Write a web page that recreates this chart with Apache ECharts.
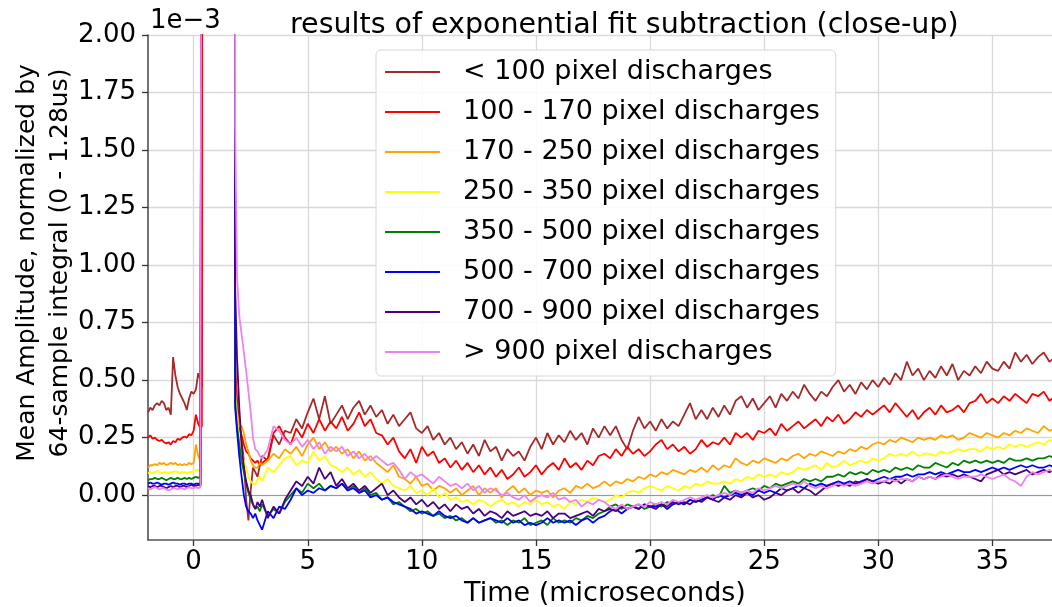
<!DOCTYPE html>
<html>
<head>
<meta charset="utf-8">
<script src="https://cdn.jsdelivr.net/npm/echarts@6/dist/echarts.min.js"></script>
<style>
html,body{margin:0;padding:0;background:#fff;}
#chart{width:1052px;height:607px;}
</style>
</head>
<body>
<div id="chart"></div>
<script>
// time axis (microseconds)
const time = [-2.0,-1.9,-1.8,-1.7,-1.6,-1.5,-1.4,-1.3,-1.2,-1.1,-1.0,-0.9,-0.8,-0.7,-0.6,-0.5,-0.4,-0.3,-0.2,-0.1,0.0,0.1,0.2,0.3,0.36,
0.4,1.78,
1.82,1.9,2.0,2.1,2.2,2.3,2.4,2.5,2.6,2.7,2.8,2.9,3.0,
3.25,3.5,3.75,4,4.25,4.5,4.75,5,5.25,5.5,5.75,6,6.25,6.5,6.75,7,7.25,7.5,7.75,8,8.25,8.5,8.75,9,9.25,9.5,9.75,10,
10.25,10.5,10.75,11,11.25,11.5,11.75,12,12.25,12.5,12.75,13,13.25,13.5,13.75,14,14.25,14.5,14.75,15,15.25,15.5,15.75,16,
16.25,16.5,16.75,17,17.25,17.5,17.75,18,18.25,18.5,18.75,19,19.25,19.5,19.75,20,20.25,20.5,20.75,21,21.25,21.5,21.75,22,
22.25,22.5,22.75,23,23.25,23.5,23.75,24,24.25,24.5,24.75,25,25.25,25.5,25.75,26,26.25,26.5,26.75,27,27.25,27.5,27.75,28,
28.25,28.5,28.75,29,29.25,29.5,29.75,30,30.25,30.5,30.75,31,31.25,31.5,31.75,32,32.25,32.5,32.75,33,33.25,33.5,33.75,34,
34.25,34.5,34.75,35,35.25,35.5,35.75,36,36.25,36.5,36.75,37,37.25,37.5,37.75,38];

// values in units of 1e-3
const lt100 = [0.36,0.38,0.37,0.39,0.40,0.39,0.41,0.40,0.37,0.38,0.35,0.60,0.52,0.47,0.44,0.42,0.40,0.37,0.42,0.45,0.44,0.46,0.53,0.50,0.47,
8,8,
0.60,0.35,0.30,0.24,0.15,-0.02,-0.11,0.02,0.12,0.10,0.08,0.13,0.17,
0.15,0.26,0.22,0.28,0.27,0.33,0.29,0.36,0.42,0.33,0.43,0.31,0.35,0.39,0.33,0.38,0.41,0.35,0.39,0.34,0.37,0.31,0.35,0.30,0.33,0.36,0.29,0.27,
0.30,0.24,0.27,0.22,0.25,0.20,0.23,0.18,0.22,0.17,0.24,0.19,0.21,0.15,0.20,0.17,0.19,0.15,0.21,0.25,0.20,0.27,0.22,0.26,
0.23,0.28,0.24,0.27,0.22,0.29,0.25,0.30,0.26,0.30,0.24,0.20,0.28,0.34,0.29,0.32,0.28,0.33,0.29,0.32,0.30,0.35,0.40,0.33,
0.37,0.33,0.38,0.34,0.39,0.35,0.41,0.43,0.38,0.42,0.37,0.40,0.43,0.38,0.44,0.41,0.45,0.42,0.48,0.44,0.41,0.45,0.43,0.47,
0.50,0.45,0.48,0.44,0.49,0.46,0.50,0.47,0.51,0.48,0.53,0.50,0.58,0.52,0.55,0.50,0.54,0.51,0.56,0.52,0.57,0.50,0.54,0.52,
0.56,0.53,0.58,0.55,0.54,0.58,0.55,0.62,0.58,0.61,0.57,0.60,0.62,0.58,0.60,0.59];

const r100_170 = [0.25,0.26,0.245,0.25,0.24,0.235,0.24,0.23,0.225,0.23,0.22,0.235,0.23,0.245,0.24,0.25,0.255,0.25,0.265,0.26,0.28,0.35,0.31,0.29,0.30,
8,8,
0.52,0.42,0.30,0.26,0.22,0.19,0.18,0.16,0.15,0.14,0.15,0.13,0.14,
0.16,0.27,0.30,0.25,0.22,0.29,0.25,0.31,0.27,0.33,0.28,0.32,0.29,0.34,0.28,0.31,0.36,0.30,0.33,0.27,0.26,0.22,0.25,0.19,0.16,0.20,0.14,0.21,
0.17,0.19,0.14,0.16,0.12,0.15,0.11,0.14,0.10,0.13,0.09,0.12,0.08,0.11,0.07,0.09,0.12,0.08,0.10,0.13,0.09,0.12,0.14,0.11,
0.16,0.12,0.14,0.11,0.15,0.13,0.17,0.18,0.16,0.20,0.17,0.21,0.18,0.20,0.17,0.19,0.22,0.24,0.20,0.22,0.19,0.21,0.18,0.20,
0.24,0.21,0.23,0.22,0.25,0.22,0.27,0.25,0.27,0.24,0.28,0.27,0.29,0.26,0.31,0.28,0.30,0.32,0.29,0.31,0.33,0.30,0.34,0.32,
0.35,0.31,0.33,0.36,0.34,0.37,0.35,0.37,0.39,0.36,0.40,0.37,0.34,0.37,0.33,0.36,0.38,0.35,0.39,0.36,0.37,0.39,0.36,0.40,
0.41,0.44,0.40,0.42,0.40,0.43,0.41,0.44,0.42,0.40,0.44,0.43,0.45,0.41,0.43,0.42];

const r170_250 = [0.12,0.13,0.13,0.135,0.13,0.14,0.135,0.14,0.13,0.135,0.14,0.135,0.14,0.13,0.135,0.13,0.135,0.13,0.14,0.135,0.14,0.22,0.17,0.145,0.15,
8,8,
0.45,0.36,0.30,0.30,0.27,0.22,0.19,0.15,0.13,0.12,0.12,0.14,0.13,
0.15,0.18,0.16,0.20,0.18,0.21,0.17,0.22,0.25,0.20,0.23,0.19,0.21,0.18,0.20,0.16,0.19,0.15,0.17,0.14,0.12,0.10,0.13,0.08,0.07,0.05,0.08,0.04,
0.05,0.02,0.04,0.03,0.01,0.03,0.0,0.02,0.04,0.0,0.03,0.01,0.03,-0.01,0.02,0.04,0.01,0.03,0.0,0.02,0.01,0.02,-0.01,0.02,
0.03,0.01,0.04,0.03,0.05,0.03,0.04,0.06,0.04,0.06,0.05,0.07,0.06,0.08,0.07,0.09,0.08,0.10,0.09,0.11,0.10,0.09,0.11,0.10,
0.12,0.10,0.13,0.11,0.13,0.12,0.16,0.14,0.13,0.15,0.14,0.16,0.15,0.14,0.16,0.15,0.17,0.18,0.16,0.18,0.17,0.19,0.18,0.17,
0.19,0.18,0.20,0.19,0.21,0.20,0.22,0.23,0.22,0.24,0.23,0.25,0.24,0.23,0.25,0.24,0.25,0.24,0.26,0.25,0.26,0.24,0.25,0.27,
0.26,0.25,0.27,0.26,0.25,0.27,0.26,0.28,0.27,0.29,0.28,0.27,0.30,0.28,0.29,0.28];

const r250_350 = [0.095,0.1,0.095,0.1,0.105,0.1,0.095,0.1,0.1,0.095,0.1,0.1,0.105,0.1,0.095,0.1,0.1,0.095,0.1,0.1,0.105,0.11,0.11,0.105,0.11,
8,8,
0.42,0.33,0.25,0.19,0.15,0.12,0.08,0.06,0.05,0.045,0.07,0.08,0.06,
0.12,0.10,0.13,0.16,0.17,0.13,0.15,0.14,0.19,0.15,0.17,0.13,0.12,0.10,0.12,0.09,0.11,0.08,0.10,0.07,0.05,0.07,0.04,0.03,0.02,0.04,0.01,0.02,
0.0,0.03,-0.01,0.01,-0.02,-0.01,-0.03,-0.02,-0.04,-0.02,-0.03,-0.05,-0.03,-0.02,-0.04,-0.03,-0.05,-0.03,-0.04,-0.02,-0.04,-0.03,-0.05,-0.04,
-0.06,-0.03,-0.04,-0.02,-0.03,-0.01,-0.02,-0.03,-0.02,0.0,-0.01,0.01,0.02,0.01,0.03,0.04,0.03,0.02,0.04,0.03,0.02,0.04,0.03,0.05,
0.04,0.06,0.05,0.05,0.06,0.05,0.07,0.06,0.08,0.07,0.09,0.08,0.09,0.08,0.10,0.09,0.10,0.12,0.11,0.12,0.13,0.11,0.14,0.12,
0.13,0.15,0.13,0.14,0.15,0.14,0.16,0.15,0.16,0.18,0.17,0.18,0.17,0.19,0.17,0.18,0.18,0.17,0.19,0.18,0.19,0.20,0.19,0.20,
0.20,0.19,0.21,0.20,0.21,0.20,0.22,0.21,0.22,0.21,0.22,0.23,0.22,0.24,0.23,0.23];

const r350_500 = [0.065,0.07,0.07,0.075,0.07,0.07,0.075,0.07,0.065,0.07,0.075,0.07,0.07,0.075,0.07,0.07,0.075,0.07,0.075,0.07,0.075,0.08,0.075,0.08,0.08,
8,8,
0.40,0.30,0.22,0.15,0.10,0.05,0.01,-0.02,-0.04,-0.06,-0.05,-0.07,-0.04,
-0.09,-0.06,-0.08,-0.03,0.0,0.03,0.01,0.05,0.03,0.05,0.02,0.04,0.03,0.05,0.02,0.04,0.01,0.03,0.0,0.01,-0.02,-0.01,-0.04,-0.03,-0.05,-0.07,-0.06,-0.08,
-0.07,-0.09,-0.08,-0.10,-0.09,-0.11,-0.10,-0.12,-0.10,-0.12,-0.11,-0.10,-0.12,-0.11,-0.13,-0.11,-0.12,-0.10,-0.13,-0.12,-0.11,-0.13,-0.10,-0.12,
-0.11,-0.12,-0.10,-0.11,-0.09,-0.10,-0.08,-0.07,-0.05,-0.04,-0.06,-0.04,-0.05,-0.04,-0.06,-0.05,-0.04,-0.05,-0.03,-0.04,-0.03,-0.04,-0.02,-0.03,
-0.02,-0.01,0.0,-0.01,0.04,0.01,0.02,0.01,0.02,0.03,0.02,0.04,0.03,0.05,0.04,0.05,0.06,0.05,0.07,0.06,0.07,0.06,0.08,0.08,
0.09,0.08,0.10,0.09,0.10,0.09,0.11,0.10,0.11,0.10,0.12,0.11,0.12,0.11,0.13,0.12,0.12,0.14,0.13,0.12,0.14,0.13,0.15,0.14,
0.15,0.14,0.15,0.14,0.15,0.14,0.16,0.15,0.15,0.16,0.15,0.16,0.16,0.17,0.16,0.17];

const r500_700 = [0.05,0.055,0.05,0.05,0.055,0.05,0.045,0.05,0.05,0.045,0.05,0.055,0.05,0.05,0.045,0.05,0.05,0.045,0.05,0.05,0.045,0.05,0.05,0.045,0.05,
8,8,
0.38,0.28,0.17,0.08,0.0,-0.05,-0.07,-0.08,-0.10,-0.08,-0.11,-0.13,-0.15,
-0.07,-0.10,-0.05,-0.06,-0.02,0.03,0.0,0.02,0.01,0.03,0.02,0.04,0.03,0.05,0.02,0.03,0.01,0.02,-0.01,0.0,-0.02,-0.01,-0.03,-0.04,-0.05,-0.06,-0.08,-0.07,
-0.08,-0.09,-0.07,-0.09,-0.10,-0.09,-0.11,-0.12,-0.10,-0.12,-0.11,-0.10,-0.11,-0.12,-0.10,-0.12,-0.11,-0.13,-0.12,-0.13,-0.12,-0.10,-0.12,-0.11,
-0.12,-0.11,-0.13,-0.11,-0.10,-0.12,-0.10,-0.09,-0.07,-0.06,-0.08,-0.06,-0.05,-0.06,-0.04,-0.05,-0.05,-0.04,-0.06,-0.04,-0.03,-0.04,-0.02,-0.03,
-0.02,-0.01,-0.02,0.0,-0.01,0.0,0.01,0.0,0.01,0.0,0.02,0.01,0.02,0.01,0.03,0.02,0.03,0.04,0.03,0.05,0.04,0.05,0.04,0.05,
0.06,0.05,0.06,0.05,0.06,0.07,0.06,0.07,0.08,0.07,0.08,0.08,0.09,0.08,0.09,0.09,0.10,0.09,0.10,0.09,0.10,0.11,0.10,0.10,
0.11,0.10,0.11,0.12,0.11,0.12,0.11,0.12,0.13,0.12,0.13,0.12,0.12,0.13,0.12,0.13];

const r700_900 = [0.04,0.035,0.04,0.04,0.035,0.04,0.04,0.035,0.03,0.035,0.04,0.035,0.04,0.04,0.035,0.04,0.04,0.035,0.04,0.045,0.04,0.04,0.045,0.04,0.045,
8,8,
0.89,0.60,0.38,0.22,0.12,0.06,0.02,0.0,-0.04,-0.06,-0.03,-0.05,-0.02,
-0.10,-0.05,-0.08,-0.02,0.02,0.06,0.04,0.08,0.05,0.12,0.07,0.10,0.04,0.07,0.03,0.05,0.02,0.04,0.01,0.03,0.05,0.0,0.02,-0.01,-0.03,-0.01,-0.04,-0.02,
-0.05,-0.03,-0.06,-0.04,-0.07,-0.04,-0.06,-0.05,-0.08,-0.06,-0.09,-0.07,-0.08,-0.10,-0.07,-0.09,-0.08,-0.07,-0.09,-0.08,-0.09,-0.07,-0.10,-0.08,
-0.08,-0.10,-0.09,-0.08,-0.07,-0.09,-0.06,-0.07,-0.06,-0.07,-0.05,-0.06,-0.05,-0.06,-0.04,-0.05,-0.06,-0.04,-0.05,-0.03,-0.04,-0.03,-0.04,-0.02,
-0.03,-0.01,-0.02,-0.03,-0.01,-0.02,0.0,-0.01,0.01,-0.01,0.0,-0.02,-0.01,0.01,0.0,0.02,0.03,0.01,0.03,0.02,0.0,0.02,0.04,0.05,
0.04,0.05,0.04,0.06,0.05,0.07,0.06,0.05,0.06,0.05,0.07,0.05,0.07,0.06,0.08,0.07,0.08,0.07,0.09,0.08,0.09,0.08,0.09,0.08,
0.07,0.06,0.09,0.10,0.11,0.09,0.10,0.09,0.10,0.11,0.09,0.10,0.11,0.10,0.11,0.10];

const gt900 = [0.03,0.025,0.03,0.035,0.03,0.025,0.03,0.03,0.025,0.02,0.025,0.03,0.03,0.025,0.03,0.03,0.025,0.03,0.035,0.03,0.03,0.035,0.03,0.035,0.035,
8,8,
1.60,0.95,0.78,0.70,0.62,0.54,0.45,0.36,0.25,0.20,0.19,0.17,0.16,
0.20,0.30,0.28,0.24,0.22,0.25,0.21,0.24,0.20,0.23,0.18,0.21,0.19,0.21,0.17,0.19,0.16,0.18,0.15,0.17,0.15,0.13,0.14,0.11,0.07,0.10,0.08,0.09,
0.07,0.05,0.08,0.06,0.04,0.05,0.03,0.05,0.02,0.04,0.01,0.03,0.02,0.0,0.01,-0.01,-0.02,0.0,-0.03,-0.01,0.0,-0.01,0.01,-0.02,
-0.01,-0.03,-0.02,-0.05,-0.03,-0.04,-0.02,-0.03,-0.05,-0.06,-0.04,-0.06,-0.05,-0.04,-0.05,-0.03,-0.04,-0.03,-0.04,-0.02,-0.03,-0.02,-0.01,-0.02,
-0.01,0.0,-0.01,0.0,0.01,0.0,0.02,0.01,0.02,0.01,0.03,0.02,0.03,0.04,0.03,0.04,0.05,0.04,0.06,0.04,0.03,0.04,0.03,0.04,
0.05,0.04,0.05,0.04,0.05,0.06,0.05,0.06,0.06,0.07,0.06,0.07,0.07,0.06,0.08,0.07,0.08,0.07,0.08,0.09,0.08,0.07,0.08,0.08,
0.08,0.09,0.08,0.07,0.08,0.09,0.07,0.06,0.04,0.08,0.10,0.09,0.10,0.11,0.10,0.11];

const seriesNames = ['< 100 pixel discharges','100 - 170 pixel discharges','170 - 250 pixel discharges','250 - 350 pixel discharges',
  '350 - 500 pixel discharges','500 - 700 pixel discharges','700 - 900 pixel discharges','> 900 pixel discharges'];
const seriesColors = ['#a52a2a','#ff0000','#ffa500','#ffff00','#008000','#0000ff','#4b0082','#ee82ee'];
const seriesValues = [lt100, r100_170, r170_250, r250_350, r350_500, r500_700, r700_900, gt900];

const xTicks = [0,5,10,15,20,25,30,35];
const yTicks = [0,0.25,0.5,0.75,1.0,1.25,1.5,1.75,2.0];

const FONT = 'DejaVu Sans';
const chart = echarts.init(document.getElementById('chart'), null, {renderer:'canvas'});

const series = seriesValues.map((vals, k) => ({
  name: seriesNames[k],
  type: 'line',
  data: time.map((t, i) => [t, vals[i]]),
  showSymbol: false,
  symbol: 'none',
  clip: true,
  lineStyle: {width: 1.8, color: seriesColors[k]},
  itemStyle: {color: seriesColors[k]},
  animation: false,
  z: 2 + k * 0.01
}));

chart.setOption({
  backgroundColor: '#ffffff',
  animation: false,
  title: {
    text: 'results of exponential fit subtraction (close-up)',
    left: 285, top: 6,
    textStyle: {fontFamily: FONT, fontSize: 28.5, fontWeight: 'normal', color: '#000'}
  },
  grid: {left: 148, top: 35, right: -10, bottom: 67, containLabel: false, outerBoundsMode: 'none'},
  legend: {
    orient: 'vertical',
    left: 376, top: 50,
    icon: 'rect',
    itemWidth: 55, itemHeight: 2,
    itemGap: 10,
    padding: [7, 16, 9, 9],
    backgroundColor: 'rgba(255,255,255,0.85)',
    borderColor: '#d8d8d8', borderWidth: 1, borderRadius: 5,
    selectedMode: false,
    textStyle: {fontFamily: FONT, fontSize: 27, lineHeight: 30, color: '#000', padding: [0,0,0,18]},
    data: seriesNames
  },
  xAxis: [{
    type: 'value', min: -2, max: 38.05,
    name: 'Time (microseconds)', nameLocation: 'middle', nameGap: 40,
    nameTextStyle: {fontFamily: FONT, fontSize: 27, color: '#000'},
    axisLine: {show: true, onZero: false, lineStyle: {color: '#555', width: 1.5}},
    axisTick: {show: true, length: 6, lineStyle: {color: '#333', width: 1.3}, customValues: xTicks},
    axisLabel: {fontFamily: FONT, fontSize: 26, color: '#000', margin: 9, customValues: xTicks},
    splitLine: {show: true, lineStyle: {color: '#d9d9d9', width: 1.3}}
  }, {
    type: 'value', position: 'top', min: -2, max: 38.05,
    axisLine: {show: true, lineStyle: {color: '#999', width: 1}},
    axisTick: {show: false}, axisLabel: {show: false}, splitLine: {show: false}
  }],
  yAxis: {
    type: 'value', min: -0.195, max: 2.0,
    axisLine: {show: true, onZero: false, lineStyle: {color: '#444', width: 1.5}},
    axisTick: {show: true, length: 6, lineStyle: {color: '#333', width: 1.3}, customValues: yTicks},
    axisLabel: {fontFamily: FONT, fontSize: 26, color: '#000', margin: 12, customValues: yTicks,
      formatter: v => v.toFixed(2)},
    splitLine: {show: true, lineStyle: {color: '#d9d9d9', width: 1.3}}
  },
  graphic: [
    {type: 'text', left: 150, top: 8, style: {text: '1e\u22123', font: '26px "DejaVu Sans"', fill: '#000'}},
    {type: 'text', x: 44, y: 263, rotation: Math.PI / 2,
      style: {text: 'Mean Amplitude, normalized by\n64-sample integral (0 - 1.28us)',
        font: '25px "DejaVu Sans"', fill: '#000', align: 'center', verticalAlign: 'middle', lineHeight: 33}}
  ],
  series: series
});
</script>
</body>
</html>
